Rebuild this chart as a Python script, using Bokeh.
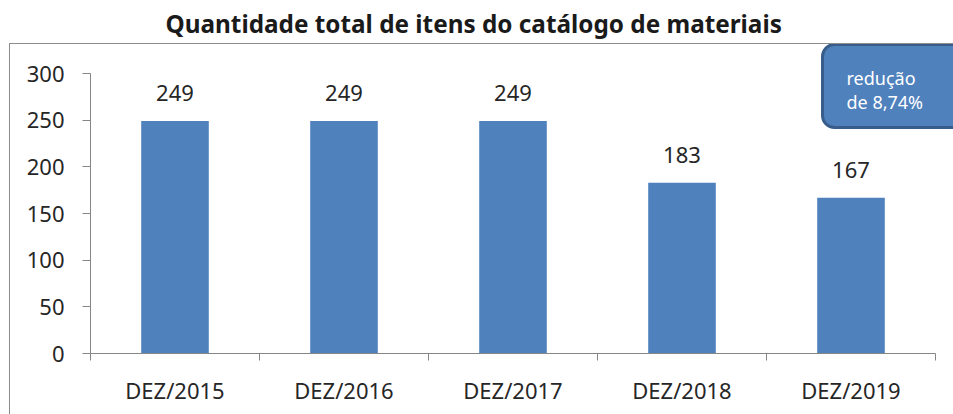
from bokeh.plotting import figure
from bokeh.models import (Range1d, LinearAxis, FixedTicker, Label, BoxAnnotation,
                          ColumnDataSource, InlineStyleSheet)
from bokeh.embed import file_html
from bokeh.resources import INLINE
from bokeh.core.properties import value

categories = ["DEZ/2015", "DEZ/2016", "DEZ/2017", "DEZ/2018", "DEZ/2019"]
values = [249, 249, 249, 183, 167]
y_ticks = [0, 50, 100, 150, 200, 250, 300]
title_text = "Quantidade total de itens do catálogo de materiais"
callout_lines = ["redução", "de 8,74%"]

FONT = "Noto Sans"
TXT = "#262626"
AX = "#868686"
BAR = "#4F81BD"

n = len(categories)
centers = [i + 0.5 for i in range(n)]
bounds = list(range(n + 1))
src = ColumnDataSource(dict(x=centers, val=values, lab=[str(v) for v in values]))

# frame: x 90..953, y 43..353 ; value axis 0..300 occupies 353..73
Y_MAX = 300
y_end = Y_MAX * (353 - 43) / (353 - 73)
x_end = n * (953 - 90) / (935 - 90)

p = figure(width=953, height=414, output_backend="svg", toolbar_location=None,
           x_range=Range1d(0, x_end), y_range=Range1d(0, y_end),
           x_axis_location=None, y_axis_location=None,
           min_border_left=90, min_border_right=0, min_border_top=43, min_border_bottom=61)
p.outline_line_color = None
p.grid.visible = False
p.background_fill_color = "white"
p.border_fill_color = "white"

p.title.text = title_text
p.title.text_font = FONT
p.title.text_font_size = "24.3px"
p.title.text_font_style = "bold"
p.title.text_color = "#1a1a1a"
p.title.align = "left"
p.title.offset = 75
p.title.standoff = 7

# outer chart border (chart area frame, partly cut by the window)
p.stylesheets = [InlineStyleSheet(css="""
:host { position: relative; overflow: hidden; }
:host::after { content: ''; position: absolute; left: 9px; top: 43px; width: 990px; height: 440px;
  border: 1px solid #8c8c8c; pointer-events: none; }
""")]

# y axis
yax = LinearAxis(ticker=FixedTicker(ticks=y_ticks), bounds=(0, Y_MAX))
yax.axis_line_color = AX
yax.major_tick_line_color = AX
yax.major_tick_out = 8
yax.major_tick_in = 0
yax.minor_tick_line_color = None
yax.major_label_text_font = FONT
yax.major_label_text_font_size = "22px"
yax.major_label_text_color = TXT
yax.major_label_standoff = 18
p.add_layout(yax, "left")

# x axis: labels at category centres, tick marks between categories
xax = LinearAxis(ticker=FixedTicker(ticks=centers, minor_ticks=bounds), bounds=(0, n),
                 major_label_overrides={c: lab for c, lab in zip(centers, categories)})
xax.axis_line_color = AX
xax.major_tick_line_color = None
xax.major_tick_out = 0
xax.major_tick_in = 0
xax.minor_tick_line_color = AX
xax.minor_tick_out = 7
xax.minor_tick_in = 0
xax.major_label_text_font = FONT
xax.major_label_text_font_size = "22px"
xax.major_label_text_color = TXT
xax.major_label_standoff = 14
p.add_layout(xax, "below")

p.vbar(x="x", top="val", width=0.4, source=src, fill_color=BAR, line_color=None)
p.text(x="x", y="val", text="lab", source=src, text_align="center", text_baseline="bottom",
       y_offset=-20, text_font=value(FONT), text_font_size="22px", text_color=TXT)

# callout (runs off the right edge of the picture)
p.add_layout(BoxAnnotation(left=822, right=None, top=44, bottom=127,
                           left_units="canvas", top_units="canvas", bottom_units="canvas",
                           fill_color=BAR, fill_alpha=1, line_color="#385D8A", line_width=3,
                           line_alpha=1, border_radius=(12, 0, 0, 12)))
p.add_layout(BoxAnnotation(left=946, right=None, top=45.5, bottom=125.5,
                           left_units="canvas", top_units="canvas", bottom_units="canvas",
                           fill_color=BAR, fill_alpha=1, line_color=None))
for i, t in enumerate(callout_lines):
    p.add_layout(Label(x=846, y=77 + 24 * i, x_units="canvas", y_units="canvas", text=t,
                       text_font=FONT, text_font_size="18px", text_color="white",
                       text_baseline="alphabetic", text_align="left"))

open("out.html", "w").write(file_html(p, INLINE))
